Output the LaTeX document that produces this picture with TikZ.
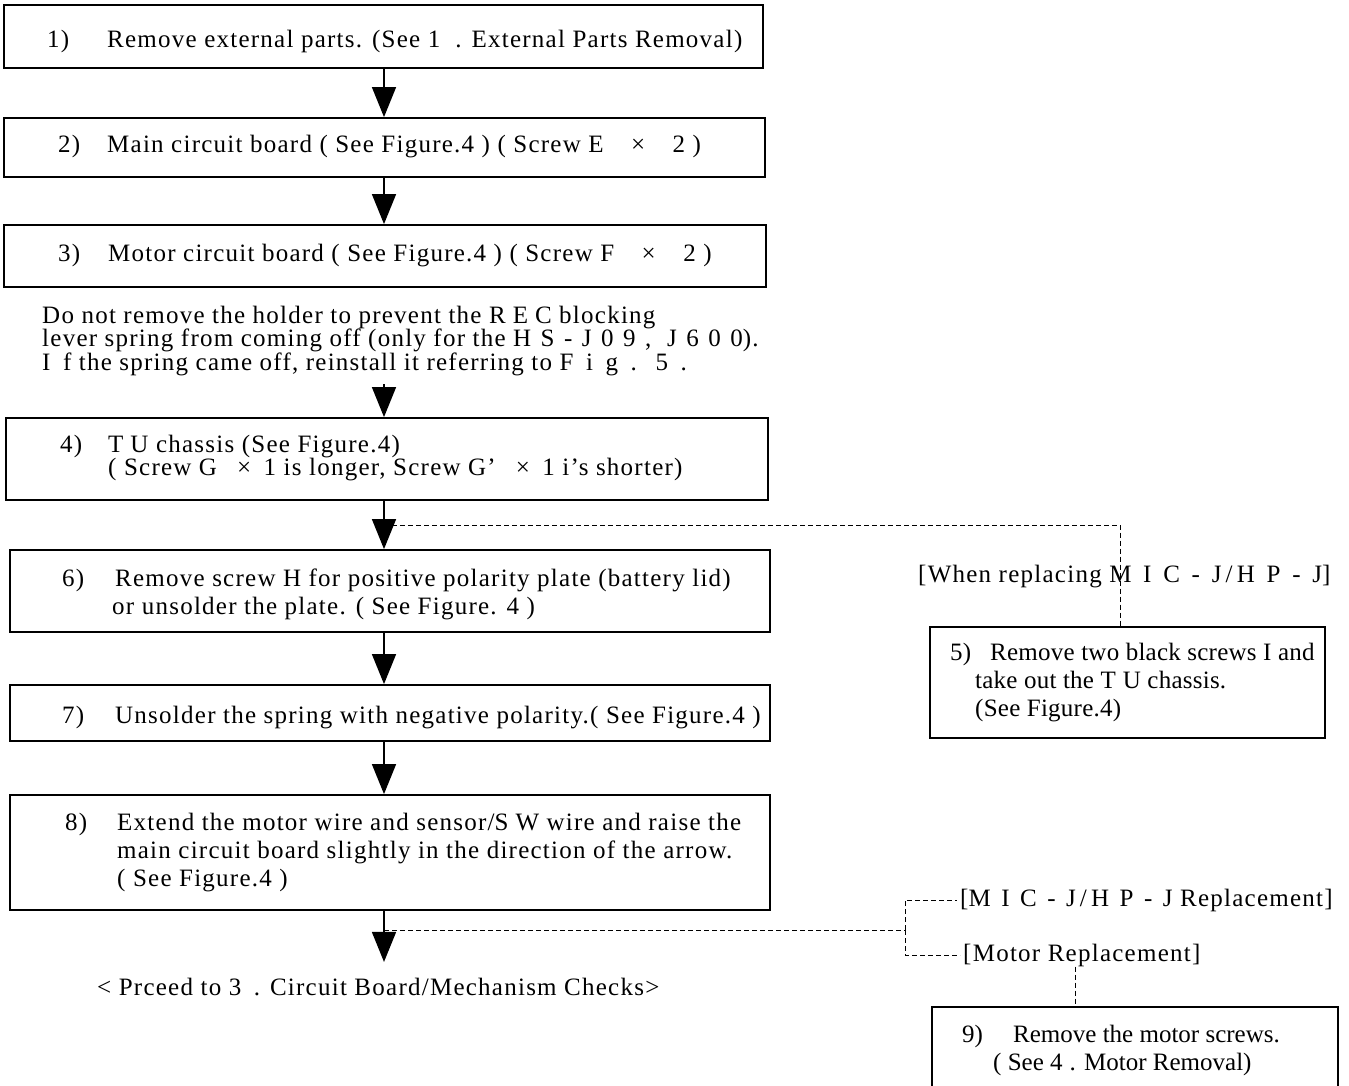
\documentclass[tikz,border=0pt]{standalone}
\usepackage{fontspec}
\setmainfont{Liberation Serif}[LetterSpace=5]
\usepackage{tikz}
\usetikzlibrary{arrows.meta,positioning}

\newcommand{\stepno}[2][50pt]{\makebox[#1][l]{#2}}
\newcommand{\stepfont}{\fontsize{25}{28}\selectfont}
\newcommand{\wide}[2][28]{{\addfontfeatures{LetterSpace=#1}#2}}

\tikzset{
  stepbox/.style={draw,line width=1.8pt,inner sep=0pt},
  steptext/.style={font=\stepfont,inner sep=0pt,anchor=west,align=left},
  tight/.style={font=\stepfont\addfontfeatures{LetterSpace=#1}},
  flow/.style={line width=1.5pt,-{Triangle[width=24pt,length=30pt]}},
  dashline/.style={line width=1pt,dash pattern=on 5pt off 3pt}
}

\begin{document}
\begin{tikzpicture}[x=1pt,y=-1pt]
  \useasboundingbox (0,0) rectangle (1349,1086);
  \coordinate (ax) at (384,0);

  % main column
  \node[stepbox,minimum width=759pt,minimum height=63pt] (s1) at (383.5,36.5) {};
  \node[steptext] (t1) at (47,41) {\stepno[60pt]{1)}Remove external parts. (See \wide[60]{1.} External Parts Removal)};

  \node[stepbox,minimum width=761pt,minimum height=59pt] (s2) at (384.5,147.5) {};
  \node[steptext] (t2) at (58,147) {\stepno[49pt]{2)}Main circuit board ( See Figure.4 ) ( Screw E \hspace{0.8em}×\hspace{0.8em} 2 )};

  \node[stepbox,minimum width=762pt,minimum height=62pt] (s3) at (385,256) {};
  \node[steptext] (t3) at (58,256) {\stepno[50pt]{3)}Motor circuit board ( See Figure.4 ) ( Screw F \hspace{0.8em}×\hspace{0.8em} 2 )};

  \node[steptext,font=\fontsize{25}{23.5}\selectfont,inner ysep=8pt] (note) at (42,341)
    {Do not remove the holder to prevent the \wide{REC} blocking\\
     lever spring from coming off (only for the \wide[38]{HS-J09, J600}).\\
     \wide[50]{If} the spring came off, reinstall it referring to \wide[50]{Fig.\ 5.}};

  \node[stepbox,minimum width=762pt,minimum height=82pt] (s4) at (387,459) {};
  \node[steptext,font=\fontsize{25}{23}\selectfont] (t4) at (60,458.5)
    {\stepno[48pt]{4)}\wide{TU} chassis (See Figure.4)\\
     \stepno[48pt]{}( Screw G \enspace×\enspace 1 is longer, Screw G’ \enspace×\enspace 1 i’s shorter)};

  \node[stepbox,minimum width=760pt,minimum height=82pt] (s6) at (390,591) {};
  \node[steptext] (t6) at (62,594)
    {\stepno[53pt]{6)}Remove screw H for positive polarity plate (battery lid)\\
     \stepno[50pt]{}or unsolder the plate. ( See Figure. \wide{4} )};

  \node[stepbox,minimum width=760pt,minimum height=56pt] (s7) at (390,713) {};
  \node[steptext] (t7) at (62,718) {\stepno[53pt]{7)}Unsolder the spring with negative polarity.( See Figure.4 )};

  \node[stepbox,minimum width=760pt,minimum height=115pt] (s8) at (390,852.5) {};
  \node[steptext] (t8) at (65,852.5)
    {\stepno[52pt]{8)}Extend the motor wire and sensor/\wide{SW} wire and raise the\\
     \stepno[52pt]{}main circuit board slightly in the direction of the arrow.\\
     \stepno[52pt]{}( See Figure.4 )};

  \node[steptext,inner ysep=16pt] (fin) at (97,987) {< Prceed to \wide[50]{3.} Circuit Board/Mechanism Checks>};

  % side branch
  \node[stepbox,minimum width=395pt,minimum height=111pt] (s5) at (1127.5,682.5) {};
  \node[steptext,tight=1] (t5) at (950,683)
    {\stepno[40pt]{5)}Remove two black screws I and\\
     \stepno[25pt]{}take out the \wide{TU} chassis.\\
     \stepno[25pt]{}(See Figure.4)};

  \node[stepbox,minimum width=406pt,minimum height=88pt] (s9) at (1135,1051) {};
  \node[steptext,tight=0] (t9) at (962,1050.5)
    {\stepno[51pt]{9)}Remove the motor screws.\\
     \stepno[31pt]{}( See \wide{4.} Motor Removal)};

  \node[steptext] (lwhen) at (918,577) {[When replacing \wide[47]{MIC-J\,/\,HP-J}]};
  \node[steptext,inner xsep=3pt] (lmic) at (957,900) {[\wide[42]{MIC-J\,/\,HP-J} Replacement]};
  \node[steptext,inner xsep=3pt] (lmot) at (960,955) {[Motor Replacement]};

  \coordinate (j1) at (384,525);
  \coordinate (j2) at (384,930);
  \coordinate (fork) at (905,930);

  % arrows
  \draw[flow] (s1.south -| ax) -- (s2.north -| ax);
  \draw[flow] (s2.south -| ax) -- (s3.north -| ax);
  \draw[flow] (note.south -| ax) -- (s4.north -| ax);
  \draw[flow] (s4.south -| ax) -- (s6.north -| ax);
  \draw[flow] (s6.south -| ax) -- (s7.north -| ax);
  \draw[flow] (s7.south -| ax) -- (s8.north -| ax);
  \draw[flow] (s8.south -| ax) -- (fin.north -| ax);

  % dashed branches
  \draw[dashline] (j1) -| ([xshift=-7pt]s5.north);
  \draw[dashline] (j2) -- (fork);
  \draw[dashline] (fork) |- (lmic.west);
  \draw[dashline] (fork) |- (lmot.west);
  \draw[dashline] ([xshift=-6pt]lmot.south) -- ([xshift=-6pt]lmot.south |- s9.north);
\end{tikzpicture}
\end{document}
